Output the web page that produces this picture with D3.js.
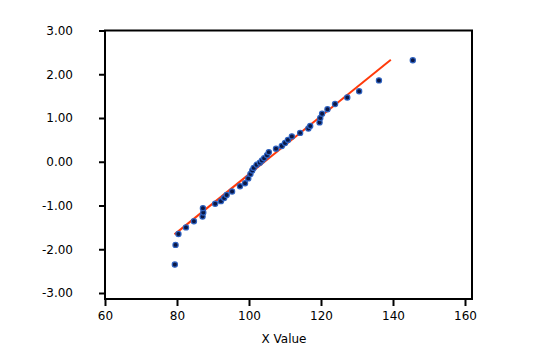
<!DOCTYPE html>
<html lang="en">
<head>
<meta charset="utf-8">
<title>Normal probability plot</title>
<script src="https://cdn.jsdelivr.net/npm/d3@7"></script>
<style>
  body { margin: 0; background: #fff; }
  .axis text { font: 12px "DejaVu Sans", sans-serif; fill: #000; }
  .axis path, .axis line { stroke: #000; stroke-width: 2; fill: none; }
</style>
</head>
<body>
<script>
// observed values (x) and their normal scores (y)
var xValues = [79.4, 79.6, 80.4, 82.5, 84.7, 87.1, 87.3, 87.2, 90.6, 92.2, 93.1, 93.8, 95.3,
  97.5, 98.9, 99.8, 100.4, 100.9, 101.3, 102.1, 103.0, 103.6, 104.2, 105.0, 105.5, 107.5,
  109.1, 110.0, 110.8, 111.9, 114.2, 116.5, 117.0, 119.6, 119.8, 120.3, 121.8, 123.9,
  127.3, 130.6, 136.1, 145.5];
var yScores = [-2.35, -1.90, -1.65, -1.50, -1.36, -1.25, -1.16, -1.06, -0.96, -0.90, -0.83,
  -0.76, -0.68, -0.56, -0.49, -0.38, -0.28, -0.20, -0.14, -0.07, -0.02, 0.03, 0.08, 0.15,
  0.22, 0.30, 0.36, 0.43, 0.50, 0.58, 0.66, 0.76, 0.82, 0.90, 1.00, 1.10, 1.20, 1.32,
  1.47, 1.61, 1.86, 2.32];
// fitted reference line
var lineX = [79.3, 139.4];
var lineY = [-1.66, 2.33];
var xTicks = [60, 80, 100, 120, 140, 160];
var yTicks = [-3, -2, -1, 0, 1, 2, 3];

var w = 541, h = 362;
var plotLeft = 105, plotRight = 472, plotTop = 30.5, plotBottom = 299;

var svg = d3.select("body").append("svg").attr("width", w).attr("height", h);

var x = d3.scaleLinear().domain([60, 160]).range([plotLeft, 465]);
var y = d3.scaleLinear().domain([-3, 3]).range([293, plotTop]);

// frame
svg.append("rect")
  .attr("x", plotLeft).attr("y", plotTop)
  .attr("width", plotRight - plotLeft).attr("height", plotBottom - plotTop)
  .attr("fill", "none").attr("stroke", "#000").attr("stroke-width", 2);

// axes
svg.append("g").attr("class", "axis")
  .attr("transform", "translate(0," + plotBottom + ")")
  .call(d3.axisBottom(x).tickValues(xTicks).tickSize(7).tickPadding(5).tickSizeOuter(0))
  .select(".domain").remove();

// plain hyphen for negatives, like the original
var fmt = function(d) { return d.toFixed(2); };
svg.append("g").attr("class", "axis")
  .attr("transform", "translate(" + plotLeft + ",0)")
  .call(d3.axisLeft(y).tickValues(yTicks).tickFormat(fmt)
    .tickSize(6).tickPadding(26).tickSizeOuter(0))
  .select(".domain").remove();

// reference line
var pts = lineX.map(function(d, i) { return [d, lineY[i]]; });
svg.append("path")
  .datum(pts)
  .attr("d", d3.line().x(function(d) { return x(d[0]); }).y(function(d) { return y(d[1]); }))
  .attr("stroke", "#ff3a0a").attr("stroke-width", 2).attr("fill", "none");

// points
svg.selectAll("circle.pt")
  .data(xValues)
  .enter()
  .append("circle")
  .attr("class", "pt")
  .attr("cx", function(d) { return x(d); })
  .attr("cy", function(d, i) { return y(yScores[i]); })
  .attr("r", 2.6)
  .attr("fill", "#0a1745")
  .attr("stroke", "#2f62c0")
  .attr("stroke-width", 1.2);

// axis title
svg.append("text")
  .attr("x", 284).attr("y", 343)
  .attr("text-anchor", "middle")
  .style("font", "12px 'DejaVu Sans', sans-serif")
  .text("X Value");
</script>
</body>
</html>
